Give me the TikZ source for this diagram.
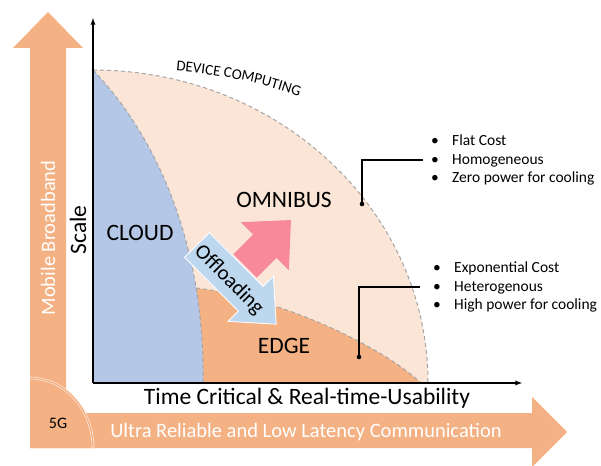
\documentclass[tikz,border=0pt]{standalone}
\usepackage{fontspec}
\setmainfont{Carlito}
\usetikzlibrary{arrows, decorations.text}

\definecolor{bandorange}{HTML}{F4B183}
\definecolor{devicepeach}{HTML}{FBE5D6}
\definecolor{cloudblue}{HTML}{B4C7E7}
\definecolor{offloadblue}{HTML}{BDD7EE}
\definecolor{omnipink}{RGB}{247,137,154}
\definecolor{bordergray}{HTML}{A5A5A5}

\begin{document}
\begin{tikzpicture}[x=1pt, y=-1pt,
	region/.style = {draw=bordergray, dash pattern=on 4pt off 3pt, line width=1pt},
	axis/.style = {->, >=latex, line width=1.3pt},
	callout/.style = {line width=1.2pt},
	areaname/.style = {font=\fontsize{23.5}{23.5}\selectfont},
	band/.style = {text=white, font=\fontsize{20.5}{20.5}\selectfont},
	facts/.style = {align=left, anchor=west, inner sep=0pt, font=\fontsize{15.5}{18.5}\selectfont}]
	\useasboundingbox (0,0) rectangle (601,465);

	\fill[bandorange] (30,448) -- (30,48) -- (13,48) -- (48,12) -- (83,48) -- (66,48) -- (66,413)
		-- (532,413) -- (532,397) -- (567,432) -- (532,467) -- (532,448) -- cycle;
	\fill[bandorange] (30,448) -- (30,378) arc[start angle=-90, end angle=0, x radius=63, y radius=70] -- cycle;
	\draw[draw=white!80!bandorange, double=bandorange, double distance=1.4pt, line width=0.6pt]
		(30,378) arc[start angle=-90, end angle=0, x radius=63, y radius=70];
	\node[band, rotate=90] (broadband) at (48,238) {Mobile Broadband};
	\node[band] (urllc) at (306,432) {Ultra Reliable and Low Latency Communication};
	\node[font=\fontsize{16}{16}\selectfont] (fiveg) at (58,423) {5G};

	\coordinate (origin) at (93,383);
	\fill[devicepeach] (origin) -- (93,70) arc[start angle=-90, end angle=0, x radius=335, y radius=313] -- cycle;
	\fill[bandorange] (150,288) -- (196,288) .. controls (280,298) and (380,345) .. (421,383) -- (150,383) -- cycle;
	\fill[cloudblue] (origin) -- (93,70) .. controls (160,140) and (205,250) .. (203,383) -- cycle;
	\draw[region] (93,70) arc[start angle=-90, end angle=0, x radius=335, y radius=313];
	\draw[region] (93,70) .. controls (160,140) and (205,250) .. (203,383);
	\draw[region] (196,288) .. controls (280,298) and (380,345) .. (421,383);
	\path[decorate, decoration={text along path, text align=left,
		text={|\fontsize{15}{15}\selectfont|DEVICE COMPUTING}}]
		(176,71) .. controls (230,76) and (270,84) .. (320,104);

	\draw[axis] (origin) -- (93,18);
	\draw[axis] (origin) -- (522,383);
	\node[areaname, rotate=90] (scale) at (78,230) {Scale};
	\node[areaname] (usability) at (307,398) {Time Critical \& Real-time-Usability};

	\node[areaname] (cloud) at (140,233) {CLOUD};
	\node[areaname] (omnibus) at (284,200) {OMNIBUS};
	\node[areaname] (edge) at (284,346) {EDGE};

	\begin{scope}[shift={(245,266)}, rotate=45]
		\fill[omnipink] (0,-16.5) -- (28,-16.5) -- (28,-34) -- (65,0) -- (28,34) -- (28,16.5) -- (0,16.5) -- cycle;
	\end{scope}
	\begin{scope}[shift={(197,245)}, rotate=-45]
		\filldraw[fill=offloadblue, draw=white, line width=0.8pt]
			(0,-17.5) -- (76,-17.5) -- (76,-32) -- (112,0) -- (76,32) -- (76,17.5) -- (0,17.5) -- cycle;
	\end{scope}
	\node[font=\fontsize{21}{21}\selectfont, rotate=-45] (offloading) at (229,280) {Offloading};

	\node[facts] (omnifacts) at (431,160) {\makebox[21pt][l]{\textbullet}Flat Cost\\
		\makebox[21pt][l]{\textbullet}Homogeneous\\
		\makebox[21pt][l]{\textbullet}Zero power for cooling};
	\coordinate (omnidot) at (362,204);
	\fill (omnidot) circle (2.3pt);
	\draw[callout] (omnidot) |- ([xshift=-8pt]omnifacts.west);

	\node[facts] (edgefacts) at (433,287) {\makebox[21pt][l]{\textbullet}Exponential Cost\\
		\makebox[21pt][l]{\textbullet}Heterogenous\\
		\makebox[21pt][l]{\textbullet}High power for cooling};
	\coordinate (edgedot) at (359,357);
	\fill (edgedot) circle (2.3pt);
	\draw[callout] (edgedot) |- ([xshift=-13pt]edgefacts.west);
\end{tikzpicture}
\end{document}
